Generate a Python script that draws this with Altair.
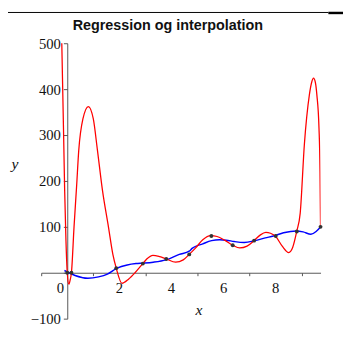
import altair as alt
import pandas as pd

# data points (black dots)
pts_x = [0, 0.16, 1.88, 2.9, 3.8, 4.68, 5.53, 6.35, 7.17, 8.0, 8.81, 9.72]
pts_y = [0, 0, 10, 20, 30, 40, 80, 60, 70, 80, 90, 100]

# interpolation curve (red)
red_x = [-0.23, -0.21, -0.14, -0.1, -0.05, 0, 0.06, 0.11, 0.16, 0.26, 0.36, 0.44, 0.6, 0.81,
         1.0, 1.16, 1.35, 1.58, 1.75, 1.88, 2.1, 2.35, 2.6, 2.9, 3.05, 3.29, 3.55, 3.8, 4.16,
         4.45, 4.68, 4.91, 5.2, 5.5, 5.75, 6.04, 6.35, 6.62, 6.9, 7.17, 7.4, 7.62, 7.8, 8.0,
         8.25, 8.5, 8.65, 8.81, 8.94, 9.1, 9.29, 9.38, 9.45, 9.52, 9.58, 9.66, 9.70, 9.72]
red_y = [560, 500, 300, 180, 70, 0, -25, -16, 0, 100, 190, 266, 335, 362,
         335, 266, 180, 100, 40, 10, -23, -14, 0, 20, 30, 38, 35, 30, 23,
         28, 40, 53, 72, 81, 79, 71, 60, 54, 58, 70, 82, 88, 86, 79,
         58, 44, 55, 91, 130, 280, 387, 415, 424, 415, 387, 316, 220, 100]

# regression curve (blue)
blue_x = [-0.11, 0, 0.3, 0.79, 1.2, 1.54, 1.91, 2.3, 2.64, 2.91, 3.3, 3.79, 4.3, 4.68, 4.79,
          5.2, 5.54, 5.85, 6.1, 6.41, 6.79, 7.2, 7.6, 7.91, 8.3, 8.79, 9.05, 9.35, 9.55, 9.72]
blue_y = [5, 2, -6, -12, -9, -3, 10, 17, 20, 21, 23, 28, 40, 47, 53,
          63, 70, 72, 71, 68, 66, 70, 76, 80, 87, 91, 89, 84, 90, 100]

title_text = "Regression og interpolation"
x_ticks = [-1, 0, 1, 2, 3, 4, 5, 6, 7, 8, 9]
x_label_vals = [2, 4, 6, 8]
x_zero_label = [0]
y_ticks = [-100, -50, 0, 50, 100, 150, 200, 250, 300, 350, 400, 450, 500]

W, H = 286, 282
XDOM = [-1, 9.72]
YDOM = [-100, 500]
x0_px = (0 - XDOM[0]) / (XDOM[1] - XDOM[0]) * W
y0_px = (YDOM[1] - 0) / (YDOM[1] - YDOM[0]) * H

xs = alt.Scale(domain=XDOM, nice=False, zero=False)
ys = alt.Scale(domain=YDOM, nice=False, zero=False)

axis_color = "#555555"
serif = "Liberation Serif"

x_axis = alt.Axis(
    values=x_ticks,
    offset=-(H - y0_px),
    domainColor=axis_color, tickColor=axis_color,
    tickSize=3, labels=False,
    grid=False,
    title="x", titleFont=serif, titleFontStyle="italic", titleFontWeight="normal",
    titleFontSize=16, titleColor="#111111", titleX=161, titleY=38,
    titleAlign="center", titleBaseline="middle", titleAngle=0,
)
y_axis = alt.Axis(
    values=y_ticks,
    offset=-x0_px,
    domainColor=axis_color, tickColor=axis_color,
    tickSize={"condition": {"test": "datum.value % 100 != 0", "value": 2}, "value": 4},
    labelExpr="datum.value % 100 == 0 && datum.value != 0 ? datum.label : ''",
    labelFont=serif, labelFontSize=15, labelColor="#111111", labelPadding=3,
    grid=False, labelFlush=False, labelOverlap=False,
    title="y", titleFont=serif, titleFontStyle="italic", titleFontWeight="normal",
    titleFontSize=16, titleColor="#111111", titleX=-54, titleY=123,
    titleAlign="center", titleBaseline="middle", titleAngle=0,
)

red_df = pd.DataFrame({"x": red_x, "y": red_y})
blue_df = pd.DataFrame({"x": blue_x, "y": blue_y})
pts_df = pd.DataFrame({"x": pts_x, "y": pts_y})

red = alt.Chart(red_df).mark_line(color="#ff0000", strokeWidth=1.3, interpolate="monotone", clip=True).encode(
    x=alt.X("x:Q", scale=xs, axis=x_axis),
    y=alt.Y("y:Q", scale=ys, axis=y_axis),
    order=alt.Order("x:Q"),
)
blue = alt.Chart(blue_df).mark_line(color="#0000ff", strokeWidth=1.5, interpolate="monotone", clip=True).encode(
    x=alt.X("x:Q", scale=xs),
    y=alt.Y("y:Q", scale=ys),
    order=alt.Order("x:Q"),
)
dots = alt.Chart(pts_df).mark_point(filled=True, shape="circle", size=16, color="#333333", opacity=1).encode(
    x=alt.X("x:Q", scale=xs),
    y=alt.Y("y:Q", scale=ys),
)

lab_y = y0_px + 20.5
xlabels = alt.Chart(pd.DataFrame({"v": x_label_vals})).mark_text(
    font=serif, fontSize=15, color="#111111", align="center", baseline="alphabetic",
).encode(x=alt.X("v:Q", scale=xs), y=alt.value(lab_y), text=alt.Text("v:Q", format="d"))
xzero = alt.Chart(pd.DataFrame({"v": x_zero_label})).mark_text(
    font=serif, fontSize=15, color="#111111", align="center", baseline="alphabetic", dx=-7,
).encode(x=alt.X("v:Q", scale=xs), y=alt.value(lab_y), text=alt.Text("v:Q", format="d"))

title = alt.Chart(pd.DataFrame({"t": [title_text]})).mark_text(
    font="Liberation Sans", fontSize=14.7, fontWeight="bold", color="#111111",
    align="center", baseline="alphabetic",
).encode(text="t:N", x=alt.value(129.7), y=alt.value(-13.3))

topline = alt.Chart(pd.DataFrame({"a": [0]})).mark_rule(color="#000000", strokeWidth=1).encode(
    x=alt.value(-34), x2=alt.value(294), y=alt.value(-31.5))
topline2 = alt.Chart(pd.DataFrame({"a": [0]})).mark_rule(color="#000000", strokeWidth=2.5).encode(
    x=alt.value(294), x2=alt.value(312), y=alt.value(-31))

chart = alt.layer(blue, red, dots, xlabels, xzero, title, topline, topline2).properties(
    width=W, height=H,
    background="white",
    autosize=alt.AutoSizeParams(type="none"),
    padding={"left": 34, "top": 32, "right": 23, "bottom": 28},
).configure_view(stroke=None)

chart.save("out.html", embed_options={"renderer": "svg", "actions": False})
